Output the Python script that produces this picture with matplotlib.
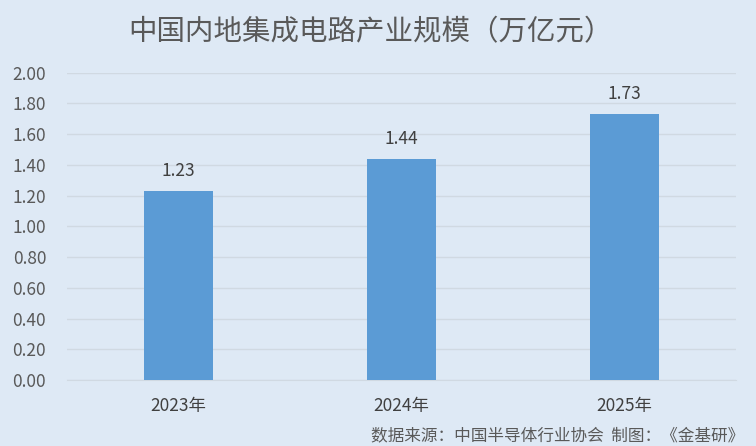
import matplotlib.pyplot as plt

plt.rcParams['font.family'] = ['Noto Sans CJK SC', 'DejaVu Sans']

years = ['2023年', '2024年', '2025年']
values = [1.23, 1.44, 1.73]
yticks = [0.0, 0.2, 0.4, 0.6, 0.8, 1.0, 1.2, 1.4, 1.6, 1.8, 2.0]

bg = '#dee9f5'
bar_color = '#5b9bd5'
text_color = '#595959'

fig = plt.figure(figsize=(7.56, 4.46), dpi=100, facecolor=bg)
ax = fig.add_axes([0.0886, 0.148, 0.885, 0.689], facecolor=bg)

x = range(len(years))
bars = ax.bar(x, values, width=0.31, color=bar_color, zorder=3)

for xi, v in zip(x, values):
    ax.annotate(f'{v:.2f}', (xi, v), xytext=(0, 14.5), textcoords='offset points',
                ha='center', va='center', fontsize=12.5, color='#404040')

ax.set_xlim(-0.5, 2.5)
ax.set_ylim(0, 2.0)
ax.set_yticks(yticks)
ax.set_yticklabels([f'{t:.2f}' for t in yticks], fontsize=12.5, color=text_color)
ax.set_xticks(list(x))
ax.set_xticklabels(years, fontsize=12.5, color='#404040')
ax.tick_params(axis='y', length=0, pad=15)
ax.tick_params(axis='x', length=0, pad=12)
ax.grid(axis='y', color='#d0d9e2', linewidth=1, zorder=0)
for s in ['top', 'right', 'left']:
    ax.spines[s].set_visible(False)
ax.spines['bottom'].set_color('#d0d9e2')

fig.text(0.49, 0.928, '中国内地集成电路产业规模（万亿元）', ha='center', va='center',
         fontsize=20.5, color=text_color, fontweight='light')
fig.text(0.985, 0.022, '数据来源：中国半导体行业协会  制图：《金基研》', ha='right', va='center',
         fontsize=12, color=text_color)

fig.savefig('out.png', dpi=100, facecolor=bg)
